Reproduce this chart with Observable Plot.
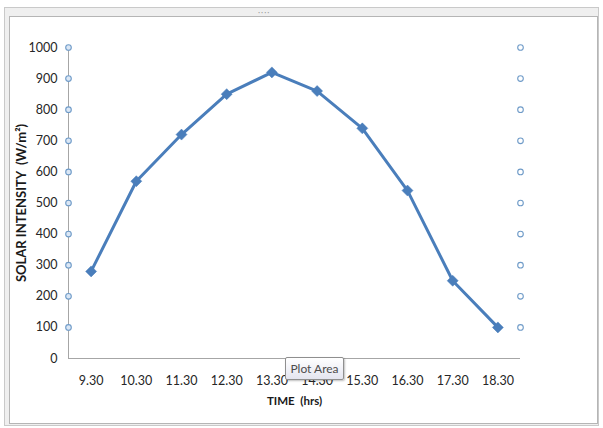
<!DOCTYPE html>
<html>
<head>
<meta charset="utf-8">
<script src="https://cdn.jsdelivr.net/npm/d3@7"></script>
<script src="https://cdn.jsdelivr.net/npm/@observablehq/plot@0.6"></script>
<style>
  html, body { margin: 0; padding: 0; background: #ffffff; }
  #wrap { position: relative; width: 603px; height: 428px; overflow: hidden; font-family: Lato, "Open Sans", sans-serif; }
  #outer { position: absolute; left: 4px; top: 7px; width: 595px; height: 419px; background: #efefef; border: 1px solid #c9c9c9; box-sizing: border-box; }
  #inner { position: absolute; left: 9px; top: 16px; width: 589px; height: 408px; background: #ffffff; border: 1px solid #b5b5b5; box-sizing: border-box; }
  #grip { position: absolute; left: 258px; top: 8px; font-size: 8px; color: #9a9a9a; letter-spacing: 1px; line-height: 8px; }
  #chart { position: absolute; left: 0; top: 0; }
  #tip { position: absolute; left: 285px; top: 357px; width: 59px; height: 23px; box-sizing: border-box;
         border: 1px solid #8f8f8f; border-radius: 2px; background: linear-gradient(#ffffff, #e4e5f0);
         box-shadow: 1px 1px 2px rgba(0,0,0,0.25); font: 12px Lato, "Open Sans", sans-serif; color: #4c4c4c;
         text-align: center; line-height: 21px; }
</style>
</head>
<body>
<div id="wrap">
  <div id="outer"></div>
  <div id="inner"></div>
  <div id="grip">····</div>
  <div id="chart"></div>
  <div id="tip">Plot Area</div>
</div>
<script>
// Hourly solar intensity readings
const times = ["9.30", "10.30", "11.30", "12.30", "13.30", "14.30", "15.30", "16.30", "17.30", "18.30"];
const intensity = [280, 570, 720, 850, 920, 860, 740, 540, 250, 100];
const yTicks = [0, 100, 200, 300, 400, 500, 600, 700, 800, 900, 1000];
const guideValues = [100, 200, 300, 400, 500, 600, 700, 800, 900, 1000];
const yTitle = "SOLAR INTENSITY  (W/m²)";
const xTitle = "TIME  (hrs)";

const data = times.map((t, i) => ({ pos: i + 0.5, time: t, value: intensity[i] }));

// Filled diamond (rotated square) whose half-diagonal equals r
const diamond = {
  draw(context, size) {
    const h = Math.sqrt(size / Math.PI);
    context.moveTo(0, -h);
    context.lineTo(h, 0);
    context.lineTo(0, h);
    context.lineTo(-h, 0);
    context.closePath();
  }
};

const blue = "#4a7ebb";

const chart = Plot.plot({
  width: 603,
  height: 428,
  marginLeft: 68,
  marginRight: 83,
  marginTop: 47,
  marginBottom: 70,
  style: { fontFamily: "Lato, 'Open Sans', sans-serif", fontSize: "12px", color: "#262626", background: "transparent" },
  x: { domain: [0, times.length] },
  y: { domain: [0, 1000] },
  marks: [
    Plot.ruleY([0], { stroke: "#a6a6a6", strokeWidth: 1 }),
    Plot.ruleX([0], { stroke: "#a6a6a6", strokeWidth: 1 }),
    Plot.dot(guideValues, { x: 0, y: d => d, r: 2.8, fill: "#dbe7f5", stroke: "#6f9bc8", strokeWidth: 1.1 }),
    Plot.dot(guideValues, { x: times.length, y: d => d, r: 2.8, fill: "#ffffff", stroke: "#6f9bc8", strokeWidth: 1.1 }),
    Plot.line(data, { x: "pos", y: "value", stroke: blue, strokeWidth: 3, strokeLinejoin: "round" }),
    Plot.dot(data, { x: "pos", y: "value", symbol: diamond, r: 5.5, fill: blue, stroke: blue, strokeWidth: 0.5 }),
    Plot.axisY({ ticks: yTicks, tickFormat: d => String(d), tickSize: 0, tickPadding: 11, label: null, fontSize: 12.5 }),
    Plot.axisX({ ticks: data.map(d => d.pos), tickFormat: p => times[Math.round(p - 0.5)], tickSize: 0, tickPadding: 18, label: null, fontSize: 12.5 }),
    Plot.text([yTitle], { text: d => d, frameAnchor: "left", textAnchor: "middle", rotate: -90, dx: -47, fontWeight: "bold", fontSize: 13, fill: "#1a1a1a" }),
    Plot.text([xTitle], { text: d => d, frameAnchor: "bottom", dy: 46, fontWeight: "bold", fontSize: 11.5, fill: "#1a1a1a" })
  ]
});

document.getElementById("chart").appendChild(chart);
</script>
</body>
</html>
